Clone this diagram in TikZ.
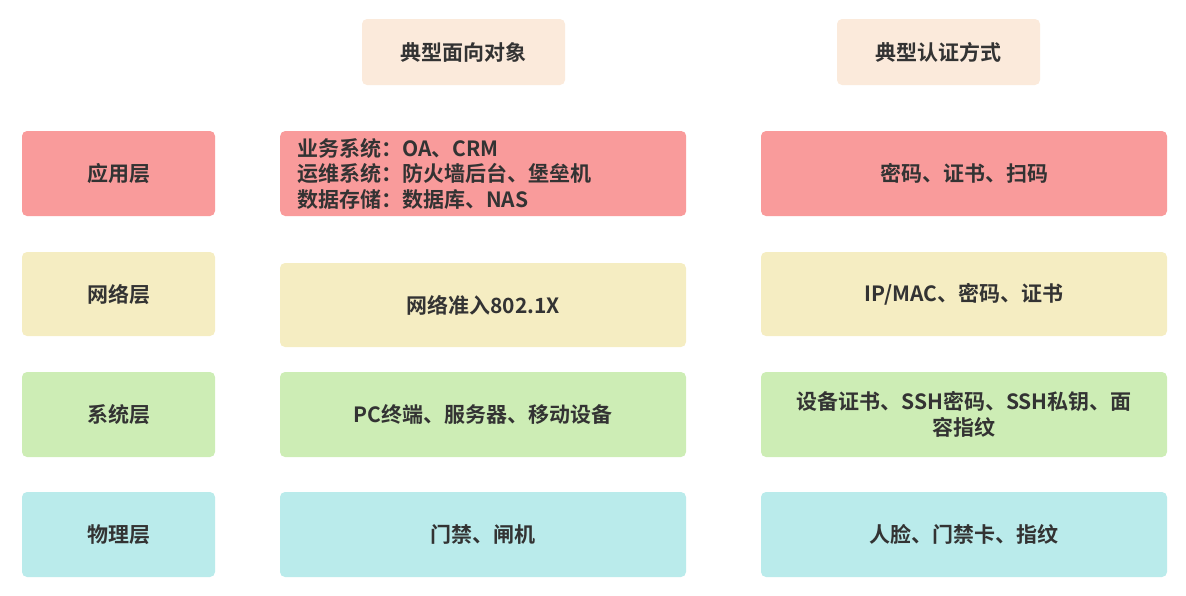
\documentclass[tikz,border=0pt]{standalone}
\usepackage{fontspec}
\setmainfont{Noto Sans CJK SC}[BoldFont={* Bold}]
\begin{document}
\begin{tikzpicture}[x=1pt,y=-1pt,
  cell/.style={rounded corners=5pt,inner sep=0pt,text=txt,font=\fontsize{21}{25.5}\selectfont\bfseries,align=center},
  hdr/.style={cell,fill=hdrc},
  rowA/.style={cell,fill=redc},
  rowB/.style={cell,fill=yelc},
  rowC/.style={cell,fill=grnc},
  rowD/.style={cell,fill=cyac}]
\definecolor{txt}{HTML}{333333}
\definecolor{hdrc}{HTML}{FBEADB}
\definecolor{redc}{HTML}{F99B9B}
\definecolor{yelc}{HTML}{F5EDC2}
\definecolor{grnc}{HTML}{CDEDB5}
\definecolor{cyac}{HTML}{BAEBEB}
\useasboundingbox (0,0) rectangle (1186,595);
% headers
\node[hdr,minimum width=203pt,minimum height=66pt] (h1) at (463.5,52) {典型面向对象};
\node[hdr,minimum width=203pt,minimum height=66pt] (h2) at (938.5,52) {典型认证方式};
% left column
\node[rowA,minimum width=193pt,minimum height=85pt] (l1) at (118.5,173.5) {应用层};
\node[rowB,minimum width=193pt,minimum height=84pt] (l2) at (118.5,294) {网络层};
\node[rowC,minimum width=193pt,minimum height=85pt] (l3) at (118.5,414.5) {系统层};
\node[rowD,minimum width=193pt,minimum height=85pt] (l4) at (118.5,534.5) {物理层};
% middle column
\node[rowA,minimum width=406pt,minimum height=85pt,align=left,anchor=west,text width=390pt] (m1) at (280,173.5) {\hspace*{9pt}业务系统：OA、CRM\\\hspace*{9pt}运维系统：防火墙后台、堡垒机\\\hspace*{9pt}数据存储：数据库、NAS};
\node[rowB,minimum width=406pt,minimum height=84pt] (m2) at (483,305) {网络准入802.1X};
\node[rowC,minimum width=406pt,minimum height=85pt] (m3) at (483,414.5) {PC终端、服务器、移动设备};
\node[rowD,minimum width=406pt,minimum height=85pt] (m4) at (483,534.5) {门禁、闸机};
% right column
\node[rowA,minimum width=406pt,minimum height=85pt] (r1) at (964,173.5) {密码、证书、扫码};
\node[rowB,minimum width=406pt,minimum height=84pt] (r2) at (964,294) {IP/MAC、密码、证书};
\node[rowC,minimum width=406pt,minimum height=85pt] (r3) at (964,414.5) {设备证书、SSH密码、SSH私钥、面\\容指纹};
\node[rowD,minimum width=406pt,minimum height=85pt] (r4) at (964,534.5) {人脸、门禁卡、指纹};
\end{tikzpicture}
\end{document}
